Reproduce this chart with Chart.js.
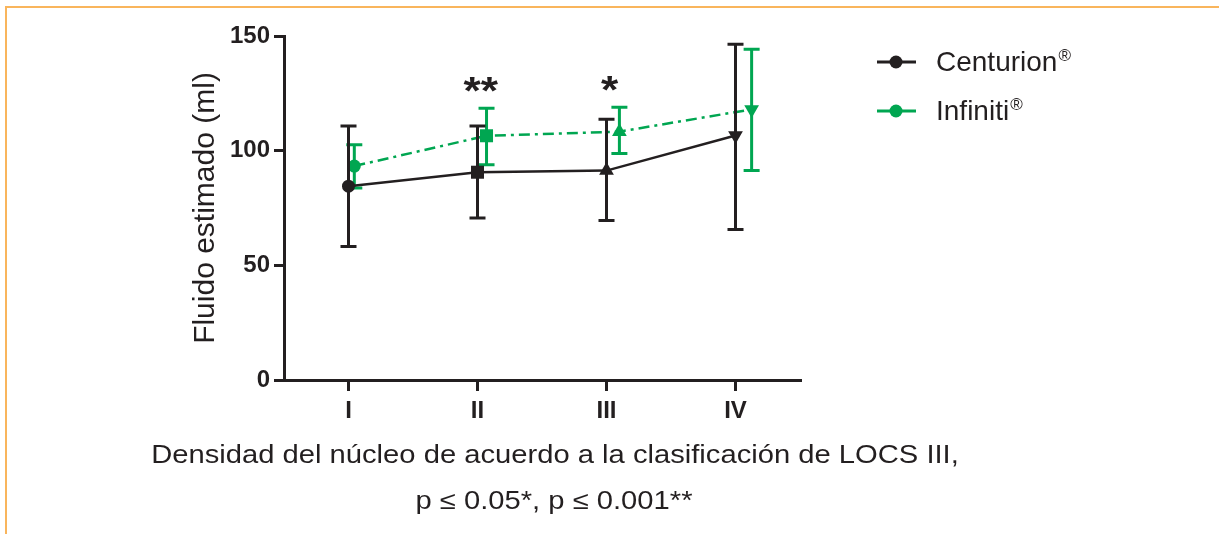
<!DOCTYPE html>
<html>
<head>
<meta charset="utf-8">
<script src="https://cdn.jsdelivr.net/npm/chart.js@4"></script>
<style>
    html, body { margin: 0; padding: 0; background: #fff; }
    #wrap { position: relative; width: 1219px; height: 534px; }
    #frame {
        position: absolute; left: 5px; top: 6px; right: 0; bottom: 0;
        border-top: 2px solid #f9b55c; border-left: 2px solid #f9b55c;
        pointer-events: none;
    }
</style>
</head>
<body>
<div id="wrap">
    <canvas id="fluidChart" width="1219" height="534"></canvas>
    <div id="frame"></div>
</div>
<script>
// ======================
// DATA
// ======================
const categories = ["I", "II", "III", "IV"];
const seriesNames = ["Centurion", "Infiniti"];

const centurionMean = [84.5, 90.6, 91.3, 106.6];
const centurionLow  = [58.2, 70.6, 69.6, 65.6];
const centurionHigh = [110.8, 110.8, 113.7, 146.4];

const infinitiMean = [93.3, 106.5, 108.3, 118.0];
const infinitiLow  = [83.7, 93.9, 98.8, 91.4];
const infinitiHigh = [102.6, 118.5, 118.9, 144.2];

const significance = ["", "**", "*", ""];

const xTitleLines = [
    "Densidad del núcleo de acuerdo a la clasificación de LOCS III,",
    "p ≤ 0.05*, p ≤ 0.001**"
];
const yTitle = "Fluido estimado (ml)";

// ======================
// STYLE
// ======================
const INK = "#231f20";
const GREEN = "#00a651";
const FONT = "'Liberation Sans', Arial, Helvetica, sans-serif";
const markerShapes = ["circle", "rect", "triangle", "triangle"];
const markerTurn = [0, 0, 0, 180];
const markerSize = [6.5, 9.2, 8.5, 8.5];
const infinitiNudge = [0.045, 0.07, 0.1, 0.125];
const STRETCH = 1.167; // the source picture is a bit wider than tall

function toPoints(values, nudge) {
    return values.map((v, i) => ({ x: i + (nudge ? nudge[i] : 0), y: v }));
}

function wideText(ctx, text, x, y) {
    ctx.save();
    ctx.translate(x, y);
    ctx.scale(STRETCH, 1);
    ctx.fillText(text, 0, 0);
    ctx.restore();
}

// ======================
// ERROR BARS + TEXT PLUGIN
// ======================
const errorBarPlugin = {
    id: "errorBars",
    beforeDatasetDraw(chart, args) {
        const ds = chart.data.datasets[args.index];
        const xs = chart.scales.x, ys = chart.scales.y;
        const ctx = chart.ctx;
        ctx.save();
        ctx.strokeStyle = ds.borderColor;
        ctx.lineWidth = 3;
        ds.data.forEach((p, i) => {
            const x = xs.getPixelForValue(p.x);
            const top = ys.getPixelForValue(ds.errHigh[i]);
            const bot = ys.getPixelForValue(ds.errLow[i]);
            ctx.beginPath();
            ctx.moveTo(x, top); ctx.lineTo(x, bot);
            ctx.moveTo(x - 8, top); ctx.lineTo(x + 8, top);
            ctx.moveTo(x - 8, bot); ctx.lineTo(x + 8, bot);
            ctx.stroke();
        });
        ctx.restore();
    },
    afterDraw(chart) {
        const ctx = chart.ctx;
        const xs = chart.scales.x, ys = chart.scales.y;
        const area = chart.chartArea;
        ctx.save();
        ctx.fillStyle = INK;

        // significance stars
        ctx.font = "bold 38px " + FONT;
        ctx.textAlign = "center";
        ctx.textBaseline = "alphabetic";
        significance.forEach((s, i) => {
            if (!s) return;
            const top = Math.max(centurionHigh[i], infinitiHigh[i]);
            const x = xs.getPixelForValue(i + 0.025);
            const y = ys.getPixelForValue(top) - 26;
            wideText(ctx, s, x, y + 22);
        });

        // y title
        ctx.save();
        ctx.font = "30px " + FONT;
        ctx.translate(214, (area.top + area.bottom) / 2);
        ctx.rotate(-Math.PI / 2);
        ctx.textAlign = "center";
        ctx.fillText(yTitle, 0, 0);
        ctx.restore();

        // x title, two lines
        ctx.font = "25px " + FONT;
        ctx.textAlign = "center";
        wideText(ctx, xTitleLines[0], 555, 463);
        wideText(ctx, xTitleLines[1], 554, 509);

        // legend
        const rows = [
            { name: seriesNames[0], color: INK, y: 62 },
            { name: seriesNames[1], color: GREEN, y: 111 }
        ];
        rows.forEach(r => {
            ctx.strokeStyle = r.color;
            ctx.fillStyle = r.color;
            ctx.lineWidth = 3;
            ctx.beginPath();
            ctx.moveTo(877, r.y); ctx.lineTo(916, r.y);
            ctx.stroke();
            ctx.beginPath();
            ctx.arc(896, r.y, 6.5, 0, Math.PI * 2);
            ctx.fill();
            ctx.fillStyle = INK;
            ctx.textAlign = "left";
            ctx.font = "28px " + FONT;
            ctx.fillText(r.name, 936, r.y + 9);
            const w = ctx.measureText(r.name).width;
            ctx.font = "17px " + FONT;
            ctx.fillText("®", 936 + w + 1, r.y - 1);
        });
        ctx.restore();
    }
};

// ======================
// RENDER CHART
// ======================
const ctx = document.getElementById("fluidChart");

new Chart(ctx, {
    type: "line",
    data: {
        datasets: [
            {
                label: seriesNames[0],
                data: toPoints(centurionMean),
                errLow: centurionLow,
                errHigh: centurionHigh,
                borderColor: INK,
                backgroundColor: INK,
                borderWidth: 2.5,
                pointStyle: markerShapes,
                rotation: markerTurn,
                pointRadius: markerSize,
                pointBorderWidth: 0,
                tension: 0
            },
            {
                label: seriesNames[1],
                data: toPoints(infinitiMean, infinitiNudge),
                errLow: infinitiLow,
                errHigh: infinitiHigh,
                borderColor: GREEN,
                backgroundColor: GREEN,
                borderWidth: 2.5,
                borderDash: [11, 5, 3, 5],
                pointStyle: markerShapes,
                rotation: markerTurn,
                pointRadius: markerSize,
                pointBorderWidth: 0,
                tension: 0
            }
        ]
    },
    options: {
        responsive: false,
        animation: false,
        layout: { padding: { top: 36, right: 419, bottom: 0, left: 0 } },
        plugins: {
            legend: { display: false },
            tooltip: { enabled: false }
        },
        scales: {
            x: {
                type: "linear",
                min: -0.5,
                max: 3.5,
                afterBuildTicks(scale) {
                    scale.ticks = categories.map((c, i) => ({ value: i }));
                },
                afterFit(scale) { scale.height = 534 - 380; },
                ticks: {
                    callback: (v) => categories[v],
                    color: INK,
                    font: { family: FONT, size: 24, weight: "bold" },
                    padding: 6,
                    maxRotation: 0
                },
                grid: { drawOnChartArea: false, tickLength: 11, lineWidth: 3, color: INK },
                border: { display: true, width: 3, color: INK }
            },
            y: {
                min: 0,
                max: 150,
                afterFit(scale) { scale.width = 284; },
                ticks: {
                    stepSize: 50,
                    color: INK,
                    font: { family: FONT, size: 24, weight: "bold" },
                    padding: 4
                },
                grid: { drawOnChartArea: false, tickLength: 10, lineWidth: 3, color: INK },
                border: { display: true, width: 3, color: INK }
            }
        }
    },
    plugins: [errorBarPlugin]
});
</script>
</body>
</html>
